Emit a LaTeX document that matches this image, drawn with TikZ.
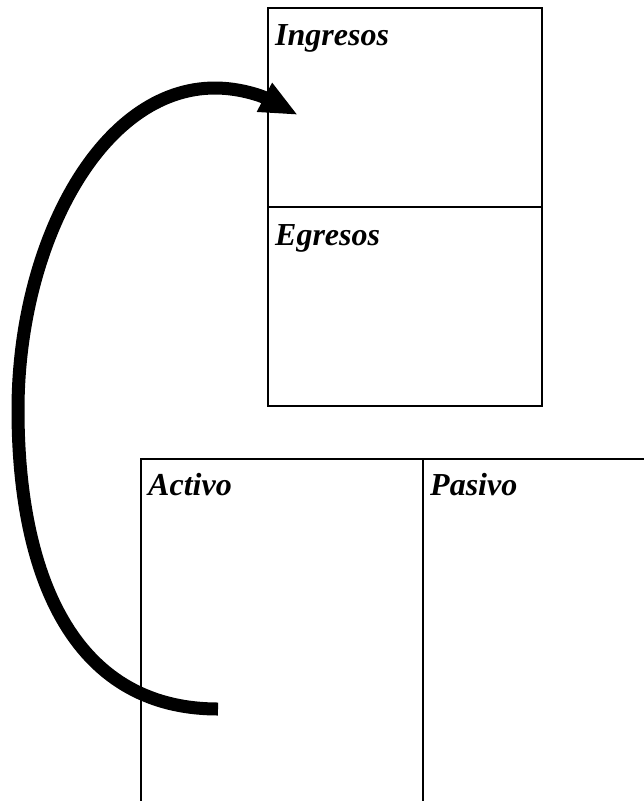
\documentclass[tikz,border=0pt]{standalone}
\usepackage{fontspec}
\setmainfont{Liberation Serif}
\usetikzlibrary{arrows.meta,positioning}
\begin{document}
\begin{tikzpicture}[x=1pt,y=-1pt]
\tikzstyle{caja} = [draw, line width=1.2pt, minimum width=274pt, minimum height=199pt, inner sep=0pt, outer sep=0pt]
\tikzstyle{borde} = [draw, line width=1.2pt]
\tikzstyle{titulo} = [anchor=base west, inner sep=0pt, font=\fontsize{32}{38}\selectfont\bfseries\itshape]
\tikzstyle{flecha} = [draw, line width=13pt, -{Triangle[length=38pt,width=30pt]}]

\useasboundingbox (0,0) rectangle (644,801);
\fill[white] (0,0) rectangle (644,801);

\node[caja, anchor=north west] (ingresos) at (268,8) {};
\node[caja, anchor=north] (egresos) at (ingresos.south) {};
\node[titulo] (tIngresos) at ([xshift=7pt,yshift=-37pt]ingresos.north west) {Ingresos};
\node[titulo] (tEgresos) at ([xshift=7pt,yshift=-38pt]egresos.north west) {Egresos};

\coordinate (activo) at (141,459);
\coordinate (pasivo) at (423,459);
\coordinate (activoFin) at (141,810);
\coordinate (pasivoFin) at (423,810);
\coordinate (balanceFin) at (650,459);
\path[borde] (activoFin) -- (activo) -- (balanceFin);
\path[borde] (pasivo) -- (pasivoFin);
\node[titulo] (tActivo) at ([xshift=7pt,yshift=-36pt]activo) {Activo};
\node[titulo] (tPasivo) at ([xshift=7pt,yshift=-36pt]pasivo) {Pasivo};

\coordinate (origen) at (218,709);
\coordinate (destino) at (298,115);
\path[flecha] (origen) .. controls (70,709) and (18,570) .. (18,410)
  .. controls (18,245) and (100,88) .. (215,88)
  .. controls (240,88) and (262,96) .. (destino);

\end{tikzpicture}
\end{document}
